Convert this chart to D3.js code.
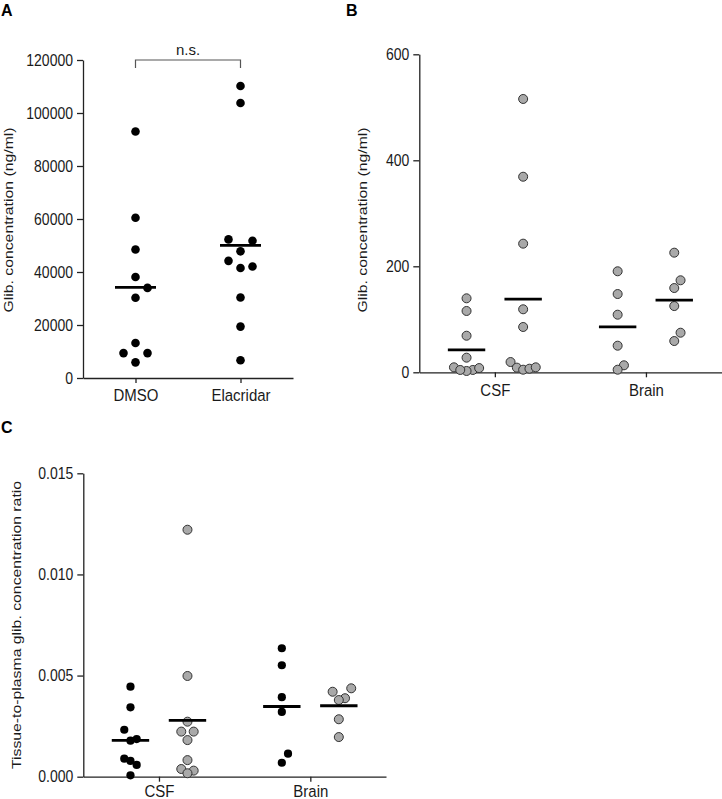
<!DOCTYPE html>
<html>
<head>
<meta charset="utf-8">
<script src="https://cdn.jsdelivr.net/npm/d3@7"></script>
<style>
  body { margin: 0; background: #fff; }
  svg { display: block; font-family: "Liberation Sans", Arial, sans-serif; }
</style>
</head>
<body>
<script>
// ---------------- data ----------------
const treatments = ["DMSO", "Elacridar"];
const tissues = ["CSF", "Brain"];

// Panel A: plasma concentration (ng/ml)
const plasmaDMSO = [93000, 60500, 48500, 38100, 34000, 30300, 13200, 9400, 9400, 5900];
const plasmaElacridar = [110200, 103800, 52300, 51800, 47800, 44200, 42100, 41500, 30400, 19400, 6700];
const plasmaTicks = [0, 20000, 40000, 60000, 80000, 100000, 120000];

// Panel B: tissue concentration (ng/ml)
const csfDMSO = [139.6, 115.7, 69, 27.6, 9.4, 4.4, 2.5, 4.4, 8];
const csfElacridar = [515.7, 369, 242.7, 118.9, 85.5, 19.4, 8.8, 4.9, 6.8, 9.4];
const brainDMSO = [190.6, 147.7, 108.7, 50.2, 13.2, 4.9];
const brainElacridar = [225.7, 173.6, 159, 125, 74.7, 59];
const concTicks = [0, 200, 400, 600];

// Panel C: tissue-to-plasma ratio
const ratioCsfDMSO = [0.00445, 0.00343, 0.00232, 0.00178, 0.00186, 0.00089, 0.00078, 0.00058, 0.00007];
const ratioCsfElacridar = [0.01221, 0.00498, 0.00272, 0.00223, 0.00223, 0.00181, 0.00082, 0.00038, 0.00030, 0.00017];
const ratioBrainDMSO = [0.00635, 0.00551, 0.00393, 0.00320, 0.00114, 0.00069];
const ratioBrainElacridar = [0.00437, 0.00420, 0.00388, 0.00379, 0.00284, 0.00196];
const ratioTicks = [0, 0.005, 0.010, 0.015];

// ---------------- helpers ----------------
const svg = d3.select("body").append("svg").attr("width", 722).attr("height", 799);
const AX = "#222";

function styleAxis(g, fs, sy) {
  g.select(".domain").attr("stroke", AX).attr("stroke-width", 1.3);
  g.selectAll(".tick line").attr("stroke", AX).attr("stroke-width", 1.3);
  g.selectAll(".tick text").attr("fill", "#1a1a1a").attr("font-size", fs)
    .attr("font-family", "Liberation Sans, Arial, sans-serif")
    .attr("transform", `scale(1,${sy})`);
}

// simple deterministic swarm: same slot conflicts when vertically close
function swarm(values, y, slot) {
  const idx = values.map((v, i) => i).sort((a, b) => values[a] - values[b] || a - b);
  const placed = [];
  const offs = new Array(values.length);
  const cands = [0, 1, -1, 2, -2, 3, -3, 4, -4];
  idx.forEach(i => {
    const py = y(values[i]);
    for (const k of cands) {
      if (!placed.some(p => p.k === k && Math.abs(p.y - py) < 12)) {
        placed.push({k, y: py}); offs[i] = k * slot; break;
      }
    }
  });
  return offs;
}

function drawGroup(g, values, cx, y, slot, r, fill, halfW) {
  const offs = swarm(values, y, slot);
  g.append("g").selectAll("circle").data(values).join("circle")
    .attr("cx", (d, i) => cx + offs[i])
    .attr("cy", d => y(d))
    .attr("r", r)
    .attr("fill", fill)
    .attr("stroke", fill === "#000" ? "none" : "#333")
    .attr("stroke-width", 1);
  const m = d3.mean(values);
  g.append("line")
    .attr("x1", cx - halfW).attr("x2", cx + halfW)
    .attr("y1", y(m)).attr("y2", y(m))
    .attr("stroke", "#000").attr("stroke-width", 2.8);
}

function yLabel(text, x, yc, fs) {
  svg.append("text")
    .attr("transform", `translate(${x},${yc}) rotate(-90) scale(1.17,1)`)
    .attr("text-anchor", "middle")
    .attr("font-size", fs)
    .attr("fill", "#1a1a1a")
    .text(text);
}

function panelLetter(t, x, y) {
  svg.append("text").attr("x", x).attr("y", y).attr("font-size", 16)
    .attr("font-weight", "bold").attr("fill", "#000").text(t);
}

// ---------------- Panel A ----------------
const yA = d3.scaleLinear().domain([0, 120000]).range([378, 60]);
const xA = d3.scalePoint().domain(treatments).range([83, 293]).padding(0.5);
const gA = svg.append("g");
gA.append("g").attr("transform", "translate(83,0)")
  .call(d3.axisLeft(yA).tickValues(plasmaTicks).tickFormat(d3.format("d"))
    .tickSize(6).tickPadding(4).tickSizeOuter(0))
  .call(g => styleAxis(g, 14, 1.16));
gA.append("g").attr("transform", "translate(0,378)")
  .call(d3.axisBottom(xA).tickSize(5).tickPadding(5.5).tickSizeOuter(0))
  .call(g => styleAxis(g, 15, 1.1));
drawGroup(gA, plasmaDMSO, xA("DMSO"), yA, 12, 4.3, "#000", 20.5);
drawGroup(gA, plasmaElacridar, xA("Elacridar"), yA, 12, 4.3, "#000", 20.5);
// significance bracket
const by = yA(120000);
gA.append("path")
  .attr("d", `M${xA("DMSO")},${by + 8}V${by}H${xA("Elacridar")}V${by + 8}`)
  .attr("fill", "none").attr("stroke", "#555").attr("stroke-width", 1.2);
gA.append("text").attr("x", (xA("DMSO") + xA("Elacridar")) / 2).attr("y", 55)
  .attr("text-anchor", "middle").attr("font-size", 15).attr("fill", "#1a1a1a")
  .text("n.s.");
yLabel("Glib. concentration (ng/ml)", 12.5, 220, 13.5);
panelLetter("A", 1, 16);

// ---------------- Panel B ----------------
const yB = d3.scaleLinear().domain([0, 600]).range([372.3, 54.3]);
const xB = d3.scalePoint().domain(tissues).range([419.3, 721.5]).padding(0.5);
const subB = d3.scalePoint().domain(treatments).range([-28.3, 28.3]);
const gB = svg.append("g");
gB.append("g").attr("transform", "translate(419.3,0)")
  .call(d3.axisLeft(yB).tickValues(concTicks).tickFormat(d3.format("d"))
    .tickSize(6).tickPadding(4).tickSizeOuter(0))
  .call(g => styleAxis(g, 14, 1.16));
gB.append("g").attr("transform", "translate(0,372.3)")
  .call(d3.axisBottom(xB).tickSize(5).tickPadding(5.5).tickSizeOuter(0))
  .call(g => styleAxis(g, 15, 1.1));
const GRAY = "#a9a9a9";
drawGroup(gB, csfDMSO, xB("CSF") + subB("DMSO"), yB, 6.3, 4.5, GRAY, 18.7);
drawGroup(gB, csfElacridar, xB("CSF") + subB("Elacridar"), yB, 6.3, 4.5, GRAY, 18.7);
drawGroup(gB, brainDMSO, xB("Brain") + subB("DMSO"), yB, 6.3, 4.5, GRAY, 18.7);
drawGroup(gB, brainElacridar, xB("Brain") + subB("Elacridar"), yB, 6.3, 4.5, GRAY, 18.7);
yLabel("Glib. concentration (ng/ml)", 366.5, 220, 13.5);
panelLetter("B", 346, 16);

// ---------------- Panel C ----------------
const yC = d3.scaleLinear().domain([0, 0.015]).range([776.7, 473.3]);
const xC = d3.scalePoint().domain(tissues).range([83.3, 386]).padding(0.5);
const subC = d3.scalePoint().domain(treatments).range([-28.5, 28.5]);
const gC = svg.append("g");
gC.append("g").attr("transform", "translate(83.3,0)")
  .call(d3.axisLeft(yC).tickValues(ratioTicks).tickFormat(d3.format(".3f"))
    .tickSize(6).tickPadding(4).tickSizeOuter(0))
  .call(g => styleAxis(g, 14, 1.16));
gC.append("g").attr("transform", "translate(0,776.7)")
  .call(d3.axisBottom(xC).tickSize(5).tickPadding(3.5).tickSizeOuter(0))
  .call(g => styleAxis(g, 15, 1.05));
drawGroup(gC, ratioCsfDMSO, xC("CSF") + subC("DMSO"), yC, 6.2, 4.1, "#000", 18.7);
drawGroup(gC, ratioCsfElacridar, xC("CSF") + subC("Elacridar"), yC, 6.2, 4.5, GRAY, 18.7);
drawGroup(gC, ratioBrainDMSO, xC("Brain") + subC("DMSO"), yC, 6.2, 4.1, "#000", 18.7);
drawGroup(gC, ratioBrainElacridar, xC("Brain") + subC("Elacridar"), yC, 6.2, 4.5, GRAY, 18.7);
yLabel("Tissue-to-plasma glib. concentration ratio", 21, 625, 13.5);
panelLetter("C", 1, 433);
</script>
</body>
</html>
